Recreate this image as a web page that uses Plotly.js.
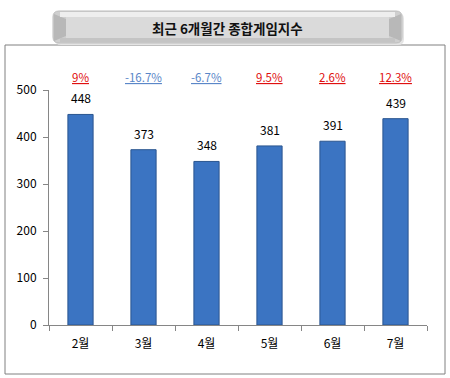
<!DOCTYPE html>
<html><head><meta charset="utf-8">
<script src="https://cdn.plot.ly/plotly-3.0.1.min.js"></script>
<style>html,body{margin:0;padding:0;background:#fff}#chart{width:450px;height:378px}</style>
</head><body><div id="chart"></div>
<script>
const months = ['2월','3월','4월','5월','6월','7월'];
const values = [448, 373, 348, 381, 391, 439];
const changes = ['9%','-16.7%','-6.7%','9.5%','2.6%','12.3%'];
const titleText = '최근 6개월간 종합게임지수';

const FONT = '"Noto Sans CJK KR", "Noto Sans", sans-serif';

const trace = {
  type: 'bar', x: months, y: values,
  marker: {color: '#3b74c2', line: {color: '#2a558f', width: 1}},
  hoverinfo: 'none'
};

// pixel -> paper conversion for decoration
const ML = 49, MR = 23, MT = 90, MB = 53;
const pw = 450 - ML - MR, ph = 378 - MT - MB;
function px(x) { return (x - ML) / pw; }
function py(y) { return (378 - MB - y) / ph; }

const annotations = [];
values.forEach((v, i) => {
  annotations.push({x: months[i], y: v, xref: 'x', yref: 'y', text: String(v), showarrow: false,
    yanchor: 'bottom', yshift: 6, font: {family: FONT, size: 12, color: '#000'}});
  const neg = changes[i].trim().startsWith('-');
  annotations.push({x: months[i], y: py(77), xref: 'x', yref: 'paper', text: '<u>' + changes[i] + '</u>', showarrow: false,
    yanchor: 'middle', font: {family: FONT, size: 11.5, color: neg ? '#5b87c8' : '#e01010'}});
});
annotations.push({x: px(227), y: py(28), xref: 'paper', yref: 'paper', xanchor: 'center', yanchor: 'middle',
  text: '<b>' + titleText + '</b>', showarrow: false,
  font: {family: FONT, size: 13.5, color: '#111'}});

function roundRect(x0, y0, x1, y1, r) {
  const X = px, Y = py;
  return `M${X(x0 + r)},${Y(y0)} L${X(x1 - r)},${Y(y0)} Q${X(x1)},${Y(y0)} ${X(x1)},${Y(y0 + r)} ` +
    `L${X(x1)},${Y(y1 - r)} Q${X(x1)},${Y(y1)} ${X(x1 - r)},${Y(y1)} L${X(x0 + r)},${Y(y1)} ` +
    `Q${X(x0)},${Y(y1)} ${X(x0)},${Y(y1 - r)} L${X(x0)},${Y(y0 + r)} Q${X(x0)},${Y(y0)} ${X(x0 + r)},${Y(y0)} Z`;
}
function poly(pts) {
  return 'M' + pts.map(p => px(p[0]) + ',' + py(p[1])).join(' L') + ' Z';
}

const layout = {
  width: 450, height: 378,
  margin: {l: ML, r: MR, t: MT, b: MB},
  paper_bgcolor: '#fff', plot_bgcolor: '#fff',
  showlegend: false,
  bargap: 0.6,
  font: {family: FONT, size: 12, color: '#000'},
  xaxis: {type: 'category', showline: true, linecolor: '#868686', linewidth: 1,
    ticks: 'outside', tickson: 'boundaries', ticklen: 5, tickcolor: '#868686',
    ticklabelstandoff: 8, tickfont: {family: FONT, size: 12}, fixedrange: true},
  yaxis: {range: [0, 500], dtick: 100, showline: true, linecolor: '#868686', linewidth: 1,
    ticks: 'outside', ticklen: 5, tickcolor: '#868686', showgrid: false, zeroline: false,
    ticklabelstandoff: 4, tickfont: {family: FONT, size: 12}, fixedrange: true},
  annotations: annotations,
  shapes: [
    {type: 'rect', xref: 'paper', yref: 'paper', x0: px(5), x1: px(445), y0: py(374), y1: py(45),
     line: {color: '#808080', width: 1}, fillcolor: 'rgba(0,0,0,0)', layer: 'below'},
    {type: 'path', xref: 'paper', yref: 'paper', path: roundRect(55, 13, 404, 45, 6),
     line: {width: 0}, fillcolor: '#e4e4e4', layer: 'below'},
    {type: 'path', xref: 'paper', yref: 'paper', path: roundRect(53, 11, 402, 43, 6),
     line: {color: '#bdbdbd', width: 1}, fillcolor: '#cfcfcf', layer: 'below'},
    {type: 'path', xref: 'paper', yref: 'paper', path: poly([[54, 14], [66, 19], [66, 36], [54, 41]]),
     line: {width: 0}, fillcolor: '#b8b8b8', layer: 'below'},
    {type: 'path', xref: 'paper', yref: 'paper', path: poly([[401, 14], [389, 19], [389, 36], [401, 41]]),
     line: {width: 0}, fillcolor: '#b8b8b8', layer: 'below'},
    {type: 'rect', xref: 'paper', yref: 'paper', x0: px(66), x1: px(389), y0: py(38), y1: py(17),
     line: {width: 0}, fillcolor: '#dadada', layer: 'below'},
    {type: 'rect', xref: 'paper', yref: 'paper', x0: px(60), x1: px(395), y0: py(17), y1: py(12),
     line: {width: 0}, fillcolor: '#eeeeee', layer: 'below'},
    {type: 'rect', xref: 'paper', yref: 'paper', x0: px(60), x1: px(395), y0: py(42), y1: py(38),
     line: {width: 0}, fillcolor: '#c4c4c4', layer: 'below'}
  ]
};

Plotly.newPlot('chart', [trace], layout, {displayModeBar: false, staticPlot: true});
</script></body></html>
